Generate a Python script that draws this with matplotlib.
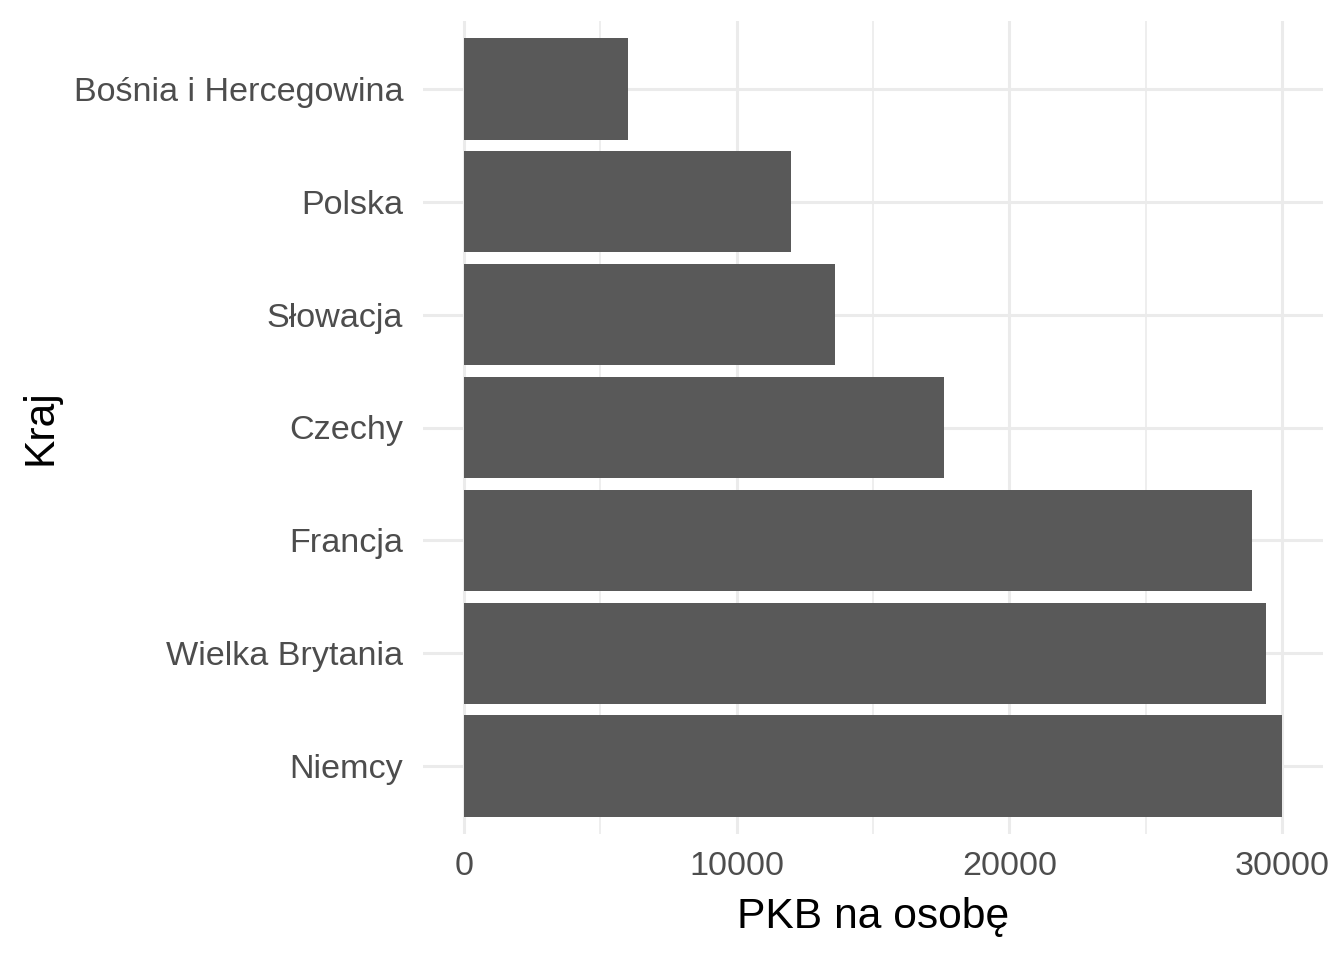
import matplotlib
matplotlib.use("Agg")
import matplotlib.pyplot as plt
import numpy as np

plt.rcParams["font.family"] = ["Liberation Sans", "DejaVu Sans"]

countries = ["Niemcy", "Wielka Brytania", "Francja", "Czechy",
             "Słowacja", "Polska", "Bośnia i Hercegowina"]
gdp = [30000, 29400, 28900, 17600, 13600, 12000, 6000]
x_ticks = [0, 10000, 20000, 30000]
x_minor = [5000, 15000, 25000]

fig = plt.figure(figsize=(7, 5), dpi=192)
ax = fig.add_axes([423 / 1344, 1 - 834 / 960, 900 / 1344, 813 / 960])

ypos = np.arange(len(countries))
ax.barh(ypos, gdp, height=0.9, color="#595959", zorder=3)

ax.set_xlim(-1500, 31500)
ax.set_ylim(-0.6, len(countries) - 0.4)
ax.set_xticks(x_ticks)
ax.set_xticklabels([str(t) for t in x_ticks])
ax.set_xticks(x_minor, minor=True)
ax.set_yticks(ypos)
ax.set_yticklabels(countries)

ax.grid(True, which="major", color="#EBEBEB", linewidth=1.15, zorder=0)
ax.grid(True, which="minor", axis="x", color="#EBEBEB", linewidth=0.6, zorder=0)
ax.set_axisbelow(True)
for s in ax.spines.values():
    s.set_visible(False)
ax.tick_params(which="both", length=0, labelsize=12.8, labelcolor="#4D4D4D")
ax.tick_params(axis="x", pad=6.5)
ax.tick_params(axis="y", pad=7.5)

ax.set_xlabel("PKB na osobę", fontsize=16, labelpad=5.5)
ax.set_ylabel("Kraj", fontsize=16, labelpad=5)

fig.savefig("out.png", dpi=192)
